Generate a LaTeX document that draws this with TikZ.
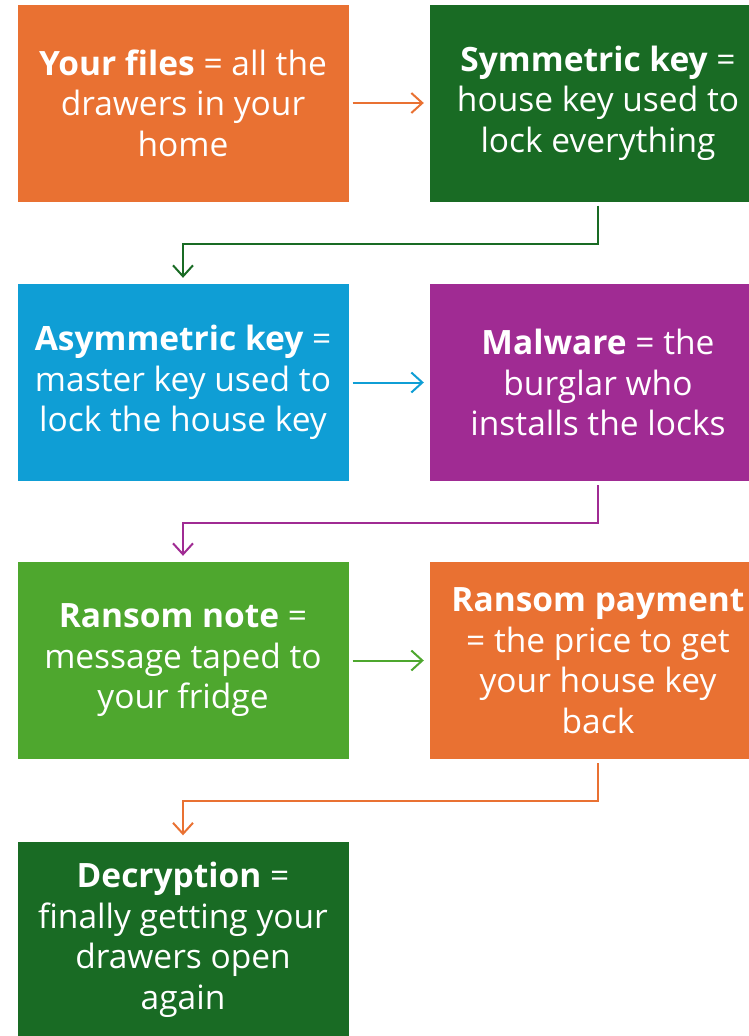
\documentclass[tikz,border=0pt]{standalone}
\usepackage{fontspec}
\setmainfont{Open Sans}
\usetikzlibrary{arrows.meta}
\definecolor{corange}{HTML}{E97132}
\definecolor{cdgreen}{HTML}{196B24}
\definecolor{cblue}{HTML}{0F9ED5}
\definecolor{cpurple}{HTML}{A02B93}
\definecolor{clgreen}{HTML}{4EA72E}
\begin{document}
\begin{tikzpicture}[x=1pt,y=-1pt,
  card/.style={fill=#1, draw=none, minimum height=197pt,
    text=white, align=center, inner sep=0pt,
    font=\fontsize{33.5}{40.5}\selectfont},
  lcard/.style={card=#1, minimum width=331pt},
  rcard/.style={card=#1, minimum width=336pt},
  conn/.style={draw=#1, line width=2pt,
    -{Straight Barb[length=11pt,width=20pt,line width=2pt]},
    shorten <=4pt, shorten >=6pt}
]
\useasboundingbox (0,0) rectangle (749,1036);
\clip (0,0) rectangle (749,1036);
\node[lcard=corange] (b1) at (183,103) {\textbf{Your files} = all the\\drawers in your\\home};
\node[rcard=cdgreen] (b2) at (598,103) {\textbf{Symmetric key} =\\house key used to\\lock everything};
\node[lcard=cblue] (b3) at (183,382.5) {\textbf{Asymmetric key} =\\master key used to\\lock the house key};
\node[rcard=cpurple] (b4) at (598,382.5) {\textbf{Malware} = the\\burglar who\\installs the locks};
\node[lcard=clgreen] (b5) at (183,660.5) {\textbf{Ransom note} =\\message taped to\\your fridge};
\node[rcard=corange] (b6) at (598,660.5) {\textbf{Ransom payment}\\= the price to get\\your house key\\back};
\node[lcard=cdgreen] (b7) at (183,940) {\textbf{Decryption} =\\finally getting your\\drawers open\\again};

\draw[conn=corange] (b1) -- (b2);
\draw[conn=cblue] (b3) -- (b4);
\draw[conn=clgreen] (b5) -- (b6);
\draw[conn=cdgreen] (b2.south) -- ++(0,42) -| (b3.north);
\draw[conn=cpurple] (b4.south) -- ++(0,42) -| (b5.north);
\draw[conn=corange] (b6.south) -- ++(0,42) -| (b7.north);
\end{tikzpicture}
\end{document}
